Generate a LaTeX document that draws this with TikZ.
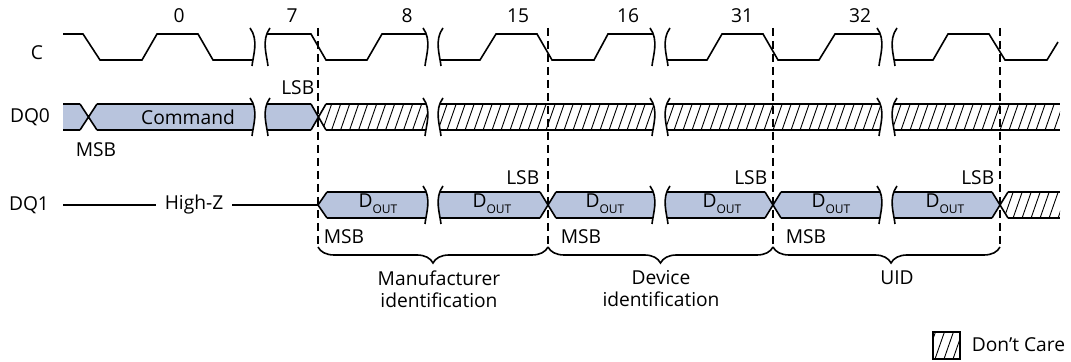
\documentclass[tikz,border=0pt]{standalone}
\usepackage{fontspec}
\setmainfont{Open Sans}
\usetikzlibrary{decorations.pathreplacing}

\definecolor{busblue}{RGB}{184,196,221}
% break marks: \cutR closes a piece, \cutL opens one
\newcommand{\cutR}[3]{-- (#1-2,#2-6) .. controls (#1+7,#2+6) and (#1+1,#3-4) .. (#1,#3+6)}
\newcommand{\cutL}[3]{-- (#1,#3+6) .. controls (#1-1,#3-4) and (#1-7,#2+6) .. (#1+2,#2-6)}
\newcommand{\brk}[3]{\draw (#1-2,#2-6) \cutR{#1}{#2}{#3} (#1+16,#3+6) \cutL{#1+16}{#2}{#3};}
\newcommand{\dout}{D\raisebox{-3pt}{\fontsize{6}{6}\selectfont OUT}}

\begin{document}
\begin{tikzpicture}[x=0.5pt,y=-0.5pt,line width=0.8pt,font=\fontsize{9.6}{11}\selectfont,
	every node/.style={inner sep=1pt},
	bus/.style={fill=busblue},
	dontcare/.style={path picture={\foreach \k in {0,...,30}
		\draw[line width=0.45pt] ([xshift=\k*4.5pt-8pt]path picture bounding box.south west) -- ++(6.8pt,19.5pt);}},
	marker/.style={dash pattern=on 4pt off 2.5pt, line width=0.6pt},
	grp/.style={decorate, decoration={brace, mirror, amplitude=8pt}}]
	\useasboundingbox (0,0) rectangle (1071,362);

	% signal names and clock numbers
	\node (clk) at (37,53) {C};
	\node (dq0) at (30,117) {DQ0};
	\node (dq1) at (29,205) {DQ1};
	\node (c0) at (179,16) {0};
	\node (c7) at (292,16) {7};
	\node (c8) at (407,16) {8};
	\node (c15) at (518,16) {15};
	\node (c16) at (628,16) {16};
	\node (c31) at (742,16) {31};
	\node (c32) at (860,16) {32};

	% clock
	\draw (63,34) -- (83,34) -- (100,60) -- (142,60) -- (157,34) -- (198,34) -- (213,60) -- (253,60);
	\draw (267,34) -- (311,34) -- (326,60) -- (367,60) -- (382,34) -- (426,34);
	\draw (440,60) -- (480,60) -- (496,34) -- (537,34) -- (552,60) -- (594,60) -- (608,34) -- (653,34);
	\draw (667,60) -- (707,60) -- (722,34) -- (763,34) -- (778,60) -- (819,60) -- (835,34) -- (880,34);
	\draw (894,60) -- (933,60) -- (948,34) -- (989,34) -- (1005,60) -- (1047,60) -- (1058,42);

	% DQ0
	\begin{scope}
		\clip (0,104) rectangle (1071,130);
		\fill[bus] (63,104) -- (80,104) -- (88.5,117) -- (80,130) -- (63,130) -- cycle;
		\fill[bus] (88.5,117) -- (97,104) -- (97,98) \cutR{252}{104}{130} -- (97,136) -- (97,130) -- cycle;
		\fill[bus] (268,136) \cutL{268}{104}{130} -- (311,98) -- (311,104) -- (318.5,117) -- (311,130) -- (311,136) -- cycle;
		\path[dontcare] (318.5,117) -- (326,104) -- (326,98) \cutR{425}{104}{130} -- (326,136) -- (326,130) -- cycle;
		\path[dontcare] (441,136) \cutL{441}{104}{130} \cutR{652}{104}{130} -- cycle;
		\path[dontcare] (668,136) \cutL{668}{104}{130} \cutR{879}{104}{130} -- cycle;
		\path[dontcare] (895,136) \cutL{895}{104}{130} -- (1060,98) -- (1060,136) -- cycle;
	\end{scope}
	\foreach \y in {104,130}
		\draw (63,\y) -- (80,\y) (97,\y) -- (253,\y) (267,\y) -- (311,\y) (326,\y) -- (426,\y)
			(440,\y) -- (653,\y) (667,\y) -- (880,\y) (894,\y) -- (1060,\y);
	\draw (80,104) -- (97,130) (80,130) -- (97,104) (311,104) -- (326,130) (311,130) -- (326,104);
	\node (cmd) at (188,117) {Command};
	\node (msb0) at (96,150) {MSB};
	\node[anchor=east] (lsb0) at (317,88) {LSB};

	% DQ1
	\begin{scope}
		\clip (0,192) rectangle (1071,218);
		\fill[bus] (318,205) -- (327,192) -- (327,186) \cutR{425}{192}{218} -- (327,224) -- (327,218) -- cycle;
		\fill[bus] (441,224) \cutL{441}{192}{218} -- (540,186) -- (540,192) -- (548,205) -- (540,218) -- (540,224) -- cycle;
		\fill[bus] (548,205) -- (556,192) -- (556,186) \cutR{652}{192}{218} -- (556,224) -- (556,218) -- cycle;
		\fill[bus] (668,224) \cutL{668}{192}{218} -- (765,186) -- (765,192) -- (773,205) -- (765,218) -- (765,224) -- cycle;
		\fill[bus] (773,205) -- (781,192) -- (781,186) \cutR{879}{192}{218} -- (781,224) -- (781,218) -- cycle;
		\fill[bus] (895,224) \cutL{895}{192}{218} -- (992,186) -- (992,192) -- (1000,205) -- (992,218) -- (992,224) -- cycle;
		\path[dontcare] (1000,205) -- (1008,192) -- (1008,186) -- (1060,186) -- (1060,224) -- (1008,224) -- (1008,218) -- cycle;
	\end{scope}
	\foreach \y in {192,218}
		\draw (327,\y) -- (426,\y) (440,\y) -- (540,\y) (556,\y) -- (653,\y) (667,\y) -- (765,\y)
			(781,\y) -- (880,\y) (894,\y) -- (992,\y) (1008,\y) -- (1060,\y);
	\draw (327,192) -- (318,205) -- (327,218);
	\foreach \x in {548,773,1000}
		\draw (\x-8,192) -- (\x+8,218) (\x-8,218) -- (\x+8,192);
	\node[inner xsep=4pt] (hiz) at (194,205) {High-Z};
	\draw (63,205) -- (hiz.west) (hiz.east) -- (318,205);
	\node[anchor=base] (d1) at (378,208) {\dout};
	\node[anchor=base] (d2) at (492,208) {\dout};
	\node[anchor=base] (d3) at (605,208) {\dout};
	\node[anchor=base] (d4) at (722,208) {\dout};
	\node[anchor=base] (d5) at (831,208) {\dout};
	\node[anchor=base] (d6) at (945,208) {\dout};
	\node[anchor=east] (lsb1) at (542,178) {LSB};
	\node[anchor=east] (lsb2) at (770,178) {LSB};
	\node[anchor=east] (lsb3) at (997,178) {LSB};
	\node (msb1) at (344,237) {MSB};
	\node (msb2) at (581,237) {MSB};
	\node (msb3) at (806,237) {MSB};

	% breaks
	\foreach \x in {252,425,652,879} {\brk{\x}{34}{60} \brk{\x}{104}{130}}
	\foreach \x in {425,652,879} {\brk{\x}{192}{218}}

	% byte markers and groups
	\foreach \x in {318,548,773,1000}
		\draw[marker] (\x,28) -- (\x,247);
	\draw[grp] (318,247) -- (548,247);
	\draw[grp] (548,247) -- (773,247);
	\draw[grp, decoration={aspect=0.52}] (773,247) -- (1000,247);
	\node[align=center] (mfr) at (439,289) {Manufacturer\\identification};
	\node[align=center] (dev) at (661,289) {Device\\identification};
	\node (uid) at (897,278) {UID};

	% legend
	\draw[dontcare] (933,332) rectangle (960,359);
	\node[anchor=west] (dc) at (969,345) {Don't Care};
\end{tikzpicture}
\end{document}
